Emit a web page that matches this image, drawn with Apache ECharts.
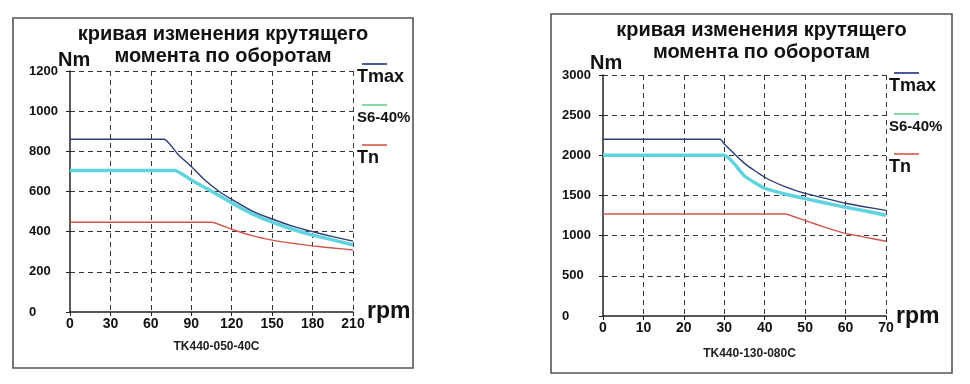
<!DOCTYPE html>
<html><head><meta charset="utf-8">
<script src="https://cdn.jsdelivr.net/npm/echarts@6/dist/echarts.min.js"></script>
<style>html,body{margin:0;padding:0;background:#fff}#c{width:970px;height:384px}</style>
</head><body><div id="c"></div>
<script>
// ---- Data ----
const titleText = 'кривая изменения крутящего\nмомента по оборотам';
const seriesNames = ['Tmax', 'S6-40%', 'Tn'];
// Left chart: TK440-050-40C
const leftModel = 'TK440-050-40C';
const leftTmaxRpm = [0, 70, 80, 90, 100, 110, 120, 135, 150, 165, 180, 195, 210];
const leftTmaxNm  = [860, 860, 786, 724, 657, 604, 561, 504, 463, 428, 400, 375, 353];
const leftS6Rpm   = [0, 78, 90, 100, 110, 120, 135, 150, 165, 180, 195, 210];
const leftS6Nm    = [705, 705, 657, 620, 583, 543, 490, 447, 412, 383, 359, 334];
const leftTnRpm   = [0, 105, 120, 135, 150, 165, 180, 195, 210];
const leftTnNm    = [447, 447, 412, 380, 358, 342, 329, 319, 309];
const leftXTicks = {min: 0, max: 210, interval: 30};
const leftYTicks = {min: 0, max: 1200, interval: 200};
// Right chart: TK440-130-080C
const rightModel = 'TK440-130-080C';
const rightTmaxRpm = [0, 29, 30, 35, 40, 45, 50, 55, 60, 65, 70];
const rightTmaxNm  = [2200, 2200, 2140, 1900, 1727, 1610, 1527, 1465, 1403, 1357, 1315];
const rightS6Rpm   = [0, 30, 32, 35, 40, 45, 50, 55, 60, 65, 70];
const rightS6Nm    = [2000, 2000, 1922, 1743, 1590, 1519, 1461, 1407, 1353, 1308, 1255];
const rightTnRpm   = [0, 45, 50, 55, 60, 65, 70];
const rightTnNm    = [1270, 1270, 1187, 1104, 1029, 979, 930];
const rightXTicks = {min: 0, max: 70, interval: 10};
const rightYTicks = {min: 0, max: 3000, interval: 500};

// ---- Chart ----
const zip = (xs, ys) => xs.map((x, i) => [x, ys[i]]);
const FONT = 'Liberation Sans, Arial, sans-serif';
const lineColors = {Tmax: '#2b3c78', S6: '#5fd3de', Tn: '#d2574b'};
const legendColors = {Tmax: '#4c5a9c', S6: '#86d8a2', Tn: '#e17a6c'};
const plain = v => String(v);

function axisX(idx, t) {
  return {
    type: 'value', gridIndex: idx, min: t.min, max: t.max, interval: t.interval,
    axisLine: {show: true, onZero: false, lineStyle: {color: '#222', width: 1.5}},
    axisTick: {show: true, length: 4, lineStyle: {color: '#222'}},
    axisLabel: {color: '#111', fontFamily: FONT, fontWeight: 'bold', fontSize: 14, margin: 5, formatter: plain},
    splitLine: {show: true, showMinLine: false, lineStyle: {color: '#333', type: [5, 4], width: 1}}
  };
}
function axisY(idx, t) {
  return {
    type: 'value', gridIndex: idx, min: t.min, max: t.max, interval: t.interval,
    axisLine: {show: true, onZero: false, lineStyle: {color: '#222', width: 1.5}},
    axisTick: {show: true, length: 4, lineStyle: {color: '#222'}},
    axisLabel: {color: '#111', fontFamily: FONT, fontWeight: 'bold', fontSize: 13, margin: 41, align: 'left', formatter: plain},
    splitLine: {show: true, showMinLine: false, lineStyle: {color: '#333', type: [5, 4], width: 1}}
  };
}
function ser(idx, name, data, color, width) {
  return {
    type: 'line', name: name, xAxisIndex: idx, yAxisIndex: idx, data: data,
    showSymbol: false, smooth: 0.15,
    lineStyle: {color: color, width: width}, silent: true, animation: false
  };
}
function txt(x, y, text, size, weight, align, color) {
  return {type: 'text', x: x, y: y, style: {text: text, fill: color || '#111', fontFamily: FONT, fontSize: size, fontWeight: weight, textAlign: align || 'left', textVerticalAlign: 'middle', lineHeight: 22}};
}
function texts(bx, by, bw, bh, g, model, legY, legTextX, rpmPos, nmPos, modelY) {
  const cx = bx + bw / 2 + 10;
  const els = [
    {type: 'rect', shape: {x: bx, y: by, width: bw, height: bh}, style: {fill: 'none', stroke: '#555', lineWidth: 1.6}},
    txt(cx, by + 16, 'кривая изменения крутящего', 20, 'bold', 'center'),
    txt(cx, by + 38, 'момента по оборотам', 20, 'bold', 'center'),
    txt(nmPos[0], nmPos[1], 'Nm', 20, 'bold'),
    txt(rpmPos[0], rpmPos[1], 'rpm', 23, 'bold'),
    txt(g.left + g.width / 2 + 5, modelY, model, 12, 'bold', 'center', '#222')
  ];
  const keys = ['Tmax', 'S6', 'Tn'];
  keys.forEach((k, i) => {
    const ly = legY[i];
    els.push({type: 'line', shape: {x1: legTextX + 5, y1: ly, x2: legTextX + 30, y2: ly}, style: {stroke: legendColors[k], lineWidth: 2}});
    els.push(txt(legTextX, ly + 13, seriesNames[i], i === 1 ? 15 : 18, 'bold'));
  });
  return els;
}

const chart = echarts.init(document.getElementById('c'), null, {renderer: 'canvas'});
const gL = {left: 70, top: 71, width: 283, height: 241};
const gR = {left: 603, top: 75, width: 283, height: 241};
chart.setOption({
  animation: false,
  backgroundColor: '#fff',
  grid: [gL, gR],
  xAxis: [axisX(0, leftXTicks), axisX(1, rightXTicks)],
  yAxis: [axisY(0, leftYTicks), axisY(1, rightYTicks)],
  series: [
    ser(0, 'S6-40%', zip(leftS6Rpm, leftS6Nm), lineColors.S6, 3.5),
    ser(0, 'Tmax', zip(leftTmaxRpm, leftTmaxNm), lineColors.Tmax, 1.4),
    ser(0, 'Tn', zip(leftTnRpm, leftTnNm), lineColors.Tn, 1.4),
    ser(1, 'S6-40%', zip(rightS6Rpm, rightS6Nm), lineColors.S6, 3.5),
    ser(1, 'Tmax', zip(rightTmaxRpm, rightTmaxNm), lineColors.Tmax, 1.4),
    ser(1, 'Tn', zip(rightTnRpm, rightTnNm), lineColors.Tn, 1.4)
  ],
  graphic: [
    ...texts(13, 18, 400, 350, gL, leftModel, [64, 105, 145], 357, [367, 312], [58, 60], 347),
    ...texts(551, 14, 401, 359, gR, rightModel, [73, 114, 154], 889, [896, 317], [590, 63], 354)
  ]
});
</script></body></html>
